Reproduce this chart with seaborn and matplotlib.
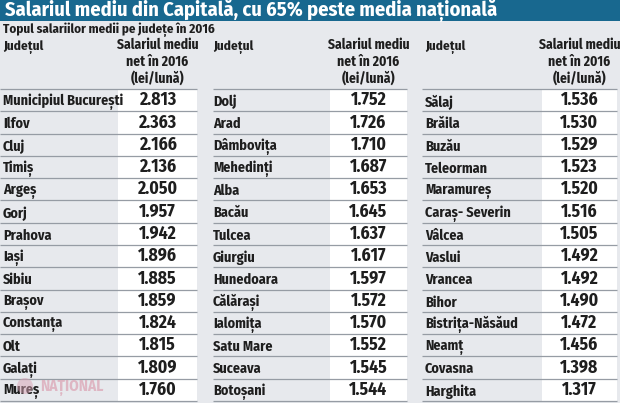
import numpy as np
import pandas as pd
import seaborn as sns
import matplotlib
matplotlib.use("Agg")
import matplotlib.pyplot as plt
from matplotlib.colors import ListedColormap
from matplotlib.patches import Rectangle, Ellipse
from matplotlib.transforms import blended_transform_factory

# ---------------- data ----------------
title = "Salariul mediu din Capitală, cu 65% peste media națională"
subtitle = "Topul salariilor medii pe județe în 2016"
col_name_header = "Județul"
col_value_header = "Salariul mediu\nnet în 2016\n(lei/lună)"
watermark = "NAȚIONAL"

names_1 = ["Municipiul București", "Ilfov", "Cluj", "Timiș", "Argeș", "Gorj", "Prahova",
           "Iași", "Sibiu", "Brașov", "Constanța", "Olt", "Galați", "Mureș"]
values_1 = [2813, 2363, 2166, 2136, 2050, 1957, 1942, 1896, 1885, 1859, 1824, 1815, 1809, 1760]

names_2 = ["Dolj", "Arad", "Dâmbovița", "Mehedinți", "Alba", "Bacău", "Tulcea",
           "Giurgiu", "Hunedoara", "Călărași", "Ialomița", "Satu Mare", "Suceava", "Botoșani"]
values_2 = [1752, 1726, 1710, 1687, 1653, 1645, 1637, 1617, 1597, 1572, 1570, 1552, 1545, 1544]

names_3 = ["Sălaj", "Brăila", "Buzău", "Teleorman", "Maramureș", "Caraș- Severin", "Vâlcea",
           "Vaslui", "Vrancea", "Bihor", "Bistrița-Năsăud", "Neamț", "Covasna", "Harghita"]
values_3 = [1536, 1530, 1529, 1523, 1520, 1516, 1505, 1492, 1492, 1490, 1472, 1456, 1398, 1317]

# ---------------- style ----------------
sns.set_theme(style="white")
FAM = ["Fira Sans Condensed", "DejaVu Sans"]
plt.rcParams["font.family"] = FAM

W, H = 620, 403
BG = "#e7e9ed"
BAR = "#18688f"
LINE = "#969ca4"
TXT = "#1e1e1e"

fig = plt.figure(figsize=(W / 100, H / 100), dpi=100, facecolor=BG)

def fx(px):
    return px / W

def fy(py):
    return 1 - py / H

# title bar
fig.add_artist(Rectangle((0, fy(21)), 1, 21 / H, transform=fig.transFigure,
                         facecolor=BAR, edgecolor="none", zorder=0))
fig.text(fx(5), fy(11), title, color="white", fontsize=14.7, fontweight="bold",
         va="center", ha="left")
fig.text(fx(3), fy(30), subtitle, color=TXT, fontsize=9.4, fontweight="bold",
         va="center", ha="left")

top, bottom = 89, 401
groups = [
    # names, values, group left, value col left, value col right, name x
    (names_1, values_1, 0, 118, 197, 3),
    (names_2, values_2, 213, 330, 407, 213),
    (names_3, values_3, 422, 542, 617, 425),
]

white_cmap = ListedColormap(["white"])

for names, vals, gl, vl, vr, nx in groups:
    ax = fig.add_axes([fx(vl), fy(bottom), (vr - vl) / W, (bottom - top) / H])
    df = pd.DataFrame({"v": vals}, index=names)
    labels = np.array([[f"{v:,}".replace(",", ".")] for v in vals])
    sns.heatmap(df, ax=ax, cmap=white_cmap, cbar=False, annot=labels, fmt="",
                annot_kws={"fontsize": 12.7, "fontweight": "bold", "color": TXT},
                xticklabels=False, yticklabels=False)
    ax.set_xlabel("")
    ax.set_ylabel("")
    n = len(names)
    span = vr - vl
    # row separators across name + value columns
    ax.hlines(np.arange(n + 1), (gl - vl) / span, 1, colors=LINE, linewidth=0.9,
              clip_on=False)
    # county names
    tr = blended_transform_factory(fig.transFigure, ax.transData)
    for i, name in enumerate(names):
        ax.text(fx(nx), i + 0.58, name, transform=tr, fontsize=10.2,
                fontweight="bold", color=TXT, va="center", ha="left")
    # headers
    fig.text(fx(nx), fy(47), col_name_header, fontsize=9.6, fontweight="bold",
             color=TXT, va="center", ha="left")
    fig.text(fx((vl + vr) / 2), fy(62), col_value_header, fontsize=9.8,
             fontweight="bold", color=TXT, va="center", ha="center",
             linespacing=1.22)

# watermark
fig.add_artist(Ellipse((fx(25), fy(386)), 16 / W, 16 / H, transform=fig.transFigure,
                       facecolor="#d9a3b4", edgecolor="none", alpha=0.5, zorder=5))
fig.text(fx(40), fy(388), watermark, fontsize=11, fontweight="bold",
         color="#dca6b6", va="center", ha="left", alpha=0.75, zorder=6)

fig.savefig("out.png", dpi=100, facecolor=BG)
